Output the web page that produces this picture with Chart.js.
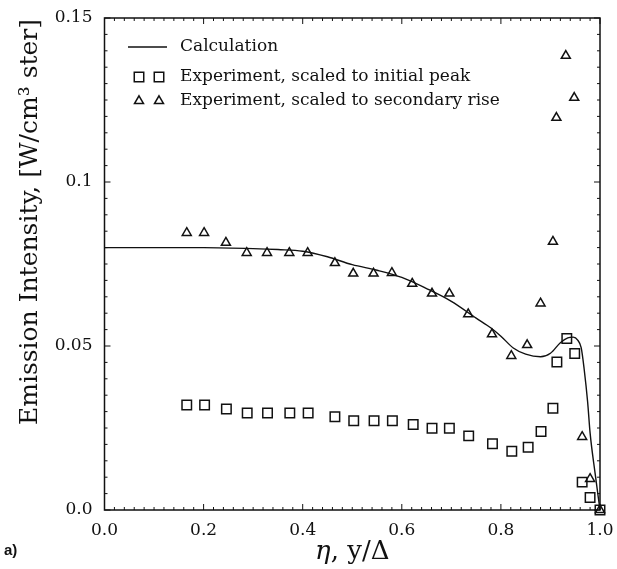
<!DOCTYPE html>
<html>
<head>
<meta charset="utf-8">
<script src="https://cdn.jsdelivr.net/npm/chart.js@4.4.1/dist/chart.umd.min.js"></script>
<style>
  html, body { margin: 0; padding: 0; background: #FFFFFF; }
  #wrap { width: 617px; height: 569px; position: relative; }
</style>
</head>
<body>
<div id="wrap"><canvas id="chart"></canvas></div>
<script>
// eta = y/Delta, emission intensity in W/cm^3 ster
const calcEta = [0, 0.1, 0.2, 0.3, 0.35, 0.4, 0.45, 0.5, 0.55, 0.6, 0.65, 0.7, 0.75, 0.78, 0.8, 0.825, 0.85, 0.88, 0.9, 0.92, 0.935, 0.946, 0.955, 0.962, 0.968, 0.975, 0.98, 0.99, 1.0];
const calcValues = [0.08, 0.08, 0.08, 0.0797, 0.0794, 0.0789, 0.0772, 0.0748, 0.0731, 0.0709, 0.0675, 0.0636, 0.0585, 0.0555, 0.053, 0.0494, 0.0475, 0.0467, 0.0478, 0.051, 0.0525, 0.0527, 0.0518, 0.0495, 0.043, 0.033, 0.0235, 0.0113, 0];

const peakEta = [0.166, 0.202, 0.246, 0.288, 0.329, 0.374, 0.411, 0.465, 0.503, 0.544, 0.581, 0.623, 0.661, 0.696, 0.735, 0.783, 0.822, 0.855, 0.881, 0.905, 0.913, 0.933, 0.949, 0.964, 0.98, 1.0];
const peakValues = [0.032, 0.032, 0.0308, 0.0296, 0.0296, 0.0296, 0.0296, 0.0284, 0.0272, 0.0272, 0.0272, 0.0261, 0.0249, 0.0249, 0.0226, 0.0202, 0.0179, 0.0191, 0.0239, 0.031, 0.0451, 0.0523, 0.0477, 0.0085, 0.0038, 0];

const riseEta = [0.166, 0.201, 0.245, 0.287, 0.328, 0.373, 0.41, 0.465, 0.502, 0.543, 0.58, 0.621, 0.661, 0.696, 0.734, 0.782, 0.821, 0.853, 0.88, 0.905, 0.912, 0.931, 0.948, 0.964, 0.98, 1.0];
const riseValues = [0.0845, 0.0845, 0.0815, 0.0784, 0.0784, 0.0784, 0.0784, 0.0753, 0.0721, 0.0721, 0.0723, 0.069, 0.066, 0.066, 0.0597, 0.0536, 0.047, 0.0503, 0.063, 0.0818, 0.1196, 0.1385, 0.1257, 0.0223, 0.0095, 0];

const xTickLabels = ["0.0", "0.2", "0.4", "0.6", "0.8", "1.0"];
const yTickLabels = ["0.0", "0.05", "0.1", "0.15"];
const legendLabels = ["Calculation", "Experiment, scaled to initial peak", "Experiment, scaled to secondary rise"];

const SERIF = '"DejaVu Serif", serif';
const INK = "#111111";

function toPoints(xs, ys) {
  return xs.map((x, i) => ({ x, y: ys[i] }));
}

const frameAndLabelsPlugin = {
  id: "frameAndLabels",
  afterDraw(chart) {
    const { ctx, chartArea: a, scales } = chart;
    const xs = scales.x;
    const ys = scales.y;

    ctx.save();
    ctx.strokeStyle = INK;
    ctx.lineWidth = 1.5;
    ctx.strokeRect(a.left, a.top, a.right - a.left, a.bottom - a.top);

    // inward ticks on all four sides
    ctx.lineWidth = 1;
    ctx.beginPath();
    for (let i = 0; i <= 50; i++) {
      const px = xs.getPixelForValue(i * 0.02);
      const len = i % 10 === 0 ? 6 : 3;
      ctx.moveTo(px, a.bottom);
      ctx.lineTo(px, a.bottom - len);
      ctx.moveTo(px, a.top);
      ctx.lineTo(px, a.top + len);
    }
    for (let i = 0; i <= 30; i++) {
      const py = ys.getPixelForValue(i * 0.005);
      const len = i % 10 === 0 ? 6 : 3;
      ctx.moveTo(a.left, py);
      ctx.lineTo(a.left + len, py);
      ctx.moveTo(a.right, py);
      ctx.lineTo(a.right - len, py);
    }
    ctx.stroke();

    // legend
    const rows = [47, 77, 101];
    ctx.lineWidth = 1.3;
    ctx.beginPath();
    ctx.moveTo(128, rows[0]);
    ctx.lineTo(167, rows[0]);
    ctx.stroke();
    const markers = [null, "rect", "triangle"];
    const radii = [0, 6.7, 5.2];
    ctx.fillStyle = "rgba(0,0,0,0)";
    ctx.lineWidth = 1.5;
    for (let r = 1; r < 3; r++) {
      [139, 159].forEach((mx) => {
        Chart.helpers.drawPoint(ctx, { pointStyle: markers[r], radius: radii[r], rotation: 0, borderWidth: 1.5 }, mx, rows[r]);
      });
    }
    ctx.fillStyle = INK;
    ctx.font = "17px " + SERIF;
    ctx.textBaseline = "middle";
    ctx.textAlign = "left";
    legendLabels.forEach((label, i) => ctx.fillText(label, 180, rows[i]));

    // axis titles
    const titleSize = 26;
    ctx.font = "italic " + titleSize + "px " + SERIF;
    const xTitle = "\u03B7";
    const rest = ", y/\u0394";
    const w1 = ctx.measureText(xTitle).width;
    ctx.font = titleSize + "px " + SERIF;
    const w2 = ctx.measureText(rest).width;
    const startX = (a.left + a.right) / 2 - (w1 + w2) / 2;
    ctx.font = "italic " + titleSize + "px " + SERIF;
    ctx.fillText(xTitle, startX, 552);
    ctx.font = titleSize + "px " + SERIF;
    ctx.fillText(rest, startX + w1, 552);

    ctx.translate(30, 222);
    ctx.rotate(-Math.PI / 2);
    ctx.textAlign = "center";
    ctx.font = "25px " + SERIF;
    ctx.fillText("Emission Intensity, [W/cm\u00B3 ster]", 0, 0);
    ctx.restore();

    ctx.save();
    ctx.fillStyle = INK;
    ctx.font = 'bold 15px "Liberation Sans", Arial, sans-serif';
    ctx.textBaseline = "middle";
    ctx.fillText("a)", 4, 551);
    ctx.restore();
  },
};

new Chart(document.getElementById("chart"), {
  type: "scatter",
  plugins: [frameAndLabelsPlugin],
  data: {
    datasets: [
      {
        type: "line",
        label: legendLabels[0],
        data: toPoints(calcEta, calcValues),
        borderColor: INK,
        borderWidth: 1.4,
        pointRadius: 0,
        fill: false,
        clip: false,
        cubicInterpolationMode: "monotone",
        order: 3,
      },
      {
        label: legendLabels[1],
        data: toPoints(peakEta, peakValues),
        pointStyle: "rect",
        pointRadius: 6.7,
        pointBorderWidth: 1.5,
        borderColor: INK,
        backgroundColor: "rgba(0,0,0,0)",
        clip: false,
        order: 1,
      },
      {
        label: legendLabels[2],
        data: toPoints(riseEta, riseValues),
        pointStyle: "triangle",
        pointRadius: 5.2,
        pointBorderWidth: 1.5,
        borderColor: INK,
        backgroundColor: "rgba(0,0,0,0)",
        clip: false,
        order: 2,
      },
    ],
  },
  options: {
    responsive: true,
    maintainAspectRatio: false,
    animation: false,
    layout: {
      padding: { top: 18, right: 17, bottom: 0, left: 0 },
    },
    plugins: {
      legend: { display: false },
      tooltip: { enabled: false },
    },
    scales: {
      x: {
        type: "linear",
        min: 0,
        max: 1,
        afterFit(scale) {
          scale.height = 59;
          scale.paddingLeft = 0;
          scale.paddingRight = 0;
        },
        grid: { display: false, drawTicks: false },
        border: { display: false },
        ticks: {
          stepSize: 0.2,
          color: INK,
          padding: 10,
          maxRotation: 0,
          font: { family: "DejaVu Serif", size: 17 },
          callback(value) {
            const idx = Math.round(value / 0.2);
            return xTickLabels[idx] ?? "";
          },
        },
      },
      y: {
        type: "linear",
        min: 0,
        max: 0.15,
        afterFit(scale) {
          scale.width = 104.5;
          scale.paddingTop = 0;
          scale.paddingBottom = 0;
        },
        grid: { display: false, drawTicks: false },
        border: { display: false },
        ticks: {
          stepSize: 0.05,
          color: INK,
          padding: 12,
          font: { family: "DejaVu Serif", size: 17 },
          callback(value) {
            const idx = Math.round(value / 0.05);
            return yTickLabels[idx] ?? "";
          },
        },
      },
    },
  },
});
</script>
</body>
</html>
